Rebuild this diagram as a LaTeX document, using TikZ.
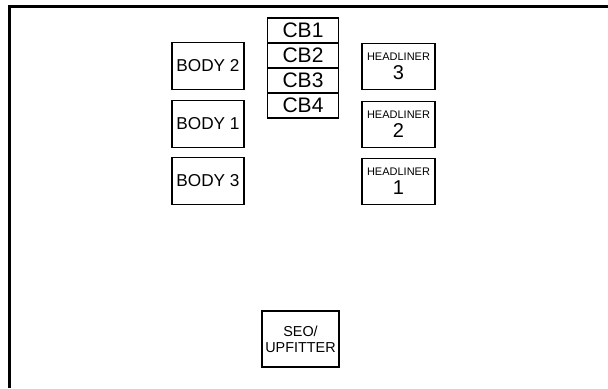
\documentclass[tikz,border=0pt]{standalone}
\usepackage{fontspec}
\setmainfont{Liberation Sans}
\usetikzlibrary{positioning}

\tikzset{
  fusebox/.style={draw, line width=0.7pt, inner sep=0pt, align=center,
    minimum width=36pt, minimum height=23.5pt, font=\fontsize{8.6}{9}\selectfont},
  cbcell/.style={draw, line width=0.7pt, inner sep=0pt, outer sep=0pt,
    minimum width=35.3pt, minimum height=12.5pt, font=\fontsize{10.5}{10}\selectfont},
  hdbox/.style={fusebox, minimum width=36.5pt, minimum height=23pt}
}

\begin{document}
\begin{tikzpicture}[x=0.5pt, y=-0.5pt]
  \useasboundingbox (0,0) rectangle (608,388);
  % frame, top and left only
  \draw[line width=1.5pt] (9.5,388) -- (9.5,6.5) -- (608,6.5);

  % circuit breakers
  \node[cbcell] (cb1) at (303,30.5) {CB1};
  \node[cbcell, below=0pt of cb1] (cb2) {CB2};
  \node[cbcell, below=0pt of cb2] (cb3) {CB3};
  \node[cbcell, below=0pt of cb3] (cb4) {CB4};

  % body relays
  \node[fusebox] (body2) at (208,66) {BODY 2};
  \node[fusebox] (body1) at (208,123.7) {BODY 1};
  \node[fusebox] (body3) at (208,181) {BODY 3};

  % headliner
  \node[hdbox] (head3) at (398.5,66.3)
    {{\fontsize{5.5}{6}\selectfont HEADLINER}\\[0.5pt]{\fontsize{10}{9}\selectfont 3}};
  \node[hdbox] (head2) at (398.5,124.5)
    {{\fontsize{5.5}{6}\selectfont HEADLINER}\\[0.5pt]{\fontsize{10}{9}\selectfont 2}};
  \node[hdbox] (head1) at (398.5,181.7)
    {{\fontsize{5.5}{6}\selectfont HEADLINER}\\[0.5pt]{\fontsize{10}{9}\selectfont 1}};

  \node[fusebox, minimum width=38.5pt, minimum height=28pt, font=\fontsize{7.2}{8}\selectfont]
    (seo) at (300.5,339) {SEO/\\UPFITTER};
\end{tikzpicture}
\end{document}
